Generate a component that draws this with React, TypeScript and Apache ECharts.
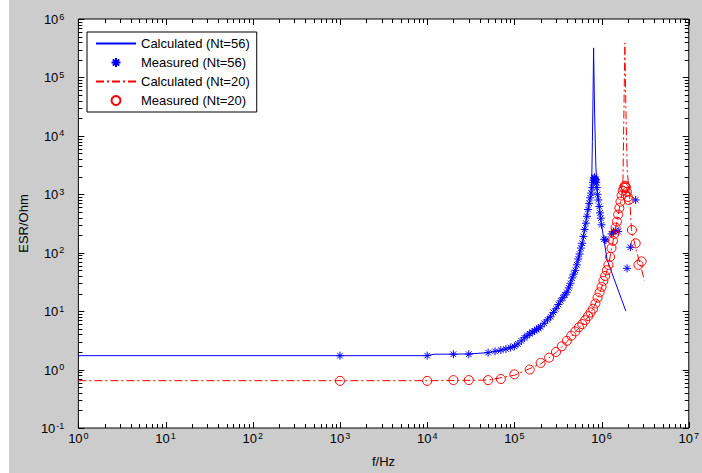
import React, { useEffect, useRef } from "react";
import * as echarts from "echarts";

// ---- data ----
const calc56F = [1, 1e3, 1e4, 1.2e4, 3e4, 5e4, 7e4, 1e5, 1.5e5, 2e5, 3e5, 4e5, 5e5, 6e5, 7e5, 7.5e5, 7.7e5, 7.85e5, 8.0e5, 8.1e5, 8.3e5, 8.6e5, 9e5, 9.8e5, 1.16e6, 1.9e6];
const calc56V = [1.73, 1.73, 1.73, 1.83, 1.85, 1.95, 2.15, 2.5, 4.0, 5.4, 11, 21, 50, 145, 550, 950, 1500, 8000, 6e4, 3.2e5, 3e4, 3000, 1000, 360, 75, 10];

const meas56F = [1e3, 1e4, 2e4, 3e4, 5e4, 6e4, 7e4, 8e4, 9e4, 1e5, 1.1e5, 1.2e5, 1.3e5, 1.4e5, 1.5e5, 1.6e5, 1.7e5, 1.8e5, 1.9e5, 2e5, 2.2e5, 2.4e5, 2.6e5, 2.8e5, 3e5, 3.2e5, 3.4e5, 3.6e5, 3.8e5, 4e5, 4.2e5, 4.4e5, 4.6e5, 4.8e5, 5e5, 5.2e5, 5.4e5, 5.6e5, 5.8e5, 6e5, 6.2e5, 6.4e5, 6.6e5, 6.8e5, 7e5, 7.2e5, 7.4e5, 7.6e5, 7.8e5, 8e5, 8.1e5, 8.2e5, 8.3e5, 8.4e5, 8.5e5, 8.6e5, 8.7e5, 8.8e5, 9e5, 9.2e5, 9.4e5, 9.6e5, 9.8e5, 1e6, 1.07e6, 1.12e6, 1.3e6, 1.37e6, 1.45e6, 1.55e6, 1.96e6, 2.14e6, 2.46e6];
const meas56V = [1.73, 1.73, 1.83, 1.83, 1.95, 2.05, 2.15, 2.25, 2.38, 2.5, 2.75, 3.1, 3.5, 3.8, 4.1, 4.4, 4.6, 4.9, 5.1, 5.4, 6.2, 7.1, 8.0, 9.5, 11, 13, 15, 17, 19, 21, 25, 30, 37, 43, 50, 62, 78, 95, 120, 145, 190, 250, 320, 420, 550, 700, 870, 1050, 1300, 1600, 1750, 1900, 1950, 1850, 1700, 1800, 1600, 1300, 1000, 800, 620, 480, 390, 300, 170, 165, 210, 230, 240, 230, 54, 124, 800];

const calc20F = [1, 1e3, 1e4, 5e4, 1e5, 2e5, 3e5, 4e5, 5e5, 6e5, 7e5, 8e5, 9e5, 1e6, 1.1e6, 1.2e6, 1.3e6, 1.4e6, 1.5e6, 1.6e6, 1.7e6, 1.76e6, 1.8e6, 1.85e6, 1.9e6, 1.97e6, 2.1e6, 2.2e6, 2.5e6, 2.85e6, 3.1e6];
const calc20V = [0.645, 0.645, 0.645, 0.66, 0.8, 1.25, 1.95, 3.0, 4.4, 5.9, 8.0, 11, 16, 25, 39, 60, 115, 205, 340, 570, 950, 1800, 2e4, 3.9e5, 3e4, 2500, 900, 250, 110, 55, 33];

const meas20F = [1e3, 1e4, 2e4, 3e4, 5e4, 7e4, 1e5, 1.5e5, 2e5, 2.5e5, 3e5, 3.5e5, 4e5, 4.5e5, 5e5, 5.5e5, 6e5, 6.5e5, 7e5, 7.5e5, 8e5, 8.5e5, 9e5, 9.5e5, 1e6, 1.05e6, 1.1e6, 1.15e6, 1.2e6, 1.25e6, 1.3e6, 1.35e6, 1.4e6, 1.45e6, 1.5e6, 1.55e6, 1.6e6, 1.65e6, 1.7e6, 1.75e6, 1.8e6, 1.85e6, 1.88e6, 1.9e6, 1.95e6, 2e6, 2.05e6, 2.23e6, 2.46e6, 2.65e6, 2.88e6];
const meas20V = [0.64, 0.64, 0.66, 0.66, 0.66, 0.69, 0.83, 1.0, 1.3, 1.6, 2.0, 2.5, 3.1, 3.8, 4.5, 5.3, 6.0, 7.0, 8.2, 9.5, 11, 13.5, 17, 21, 26, 33, 40, 50, 62, 85, 120, 160, 210, 270, 340, 450, 580, 750, 950, 1150, 1300, 1400, 1350, 1300, 1100, 900, 800, 245, 145, 62, 71];

const seriesNames = ["Calculated (Nt=56)", "Measured (Nt=56)", "Calculated (Nt=20)", "Measured (Nt=20)"];

// tick decades
const xDecades = [1, 10, 100, 1e3, 1e4, 1e5, 1e6, 1e7];
const yDecades = [0.1, 1, 10, 100, 1e3, 1e4, 1e5, 1e6];
const minorSteps = [2, 3, 4, 5, 6, 7, 8, 9];

const FONT = "'Liberation Sans', Arial, Helvetica, sans-serif";
const BLUE = "#0000ff";
const RED = "#ff0000";
const STAR = "path://M5,0L5,10M0,5L10,5M1.5,1.5L8.5,8.5M1.5,8.5L8.5,1.5";

const zip = (a: number[], b: number[]) => a.map((v, i) => [v, b[i]]);

function tickData(decades: number[]) {
  const out: number[][] = [];
  decades.forEach((d, i) => {
    out.push([d, 1]);
    if (i < decades.length - 1) minorSteps.forEach((m) => out.push([d * m, 0]));
  });
  return out;
}

const rich = {
  b: { fontSize: 13, fontFamily: FONT, color: "#000", lineHeight: 14, padding: [6, 0, 0, 0], verticalAlign: "bottom" },
  s: { fontSize: 9, fontFamily: FONT, color: "#000", lineHeight: 10, verticalAlign: "top", padding: [0, 0, 0, 1] },
};
const fmt = (v: number) => `{b|10}{s|${Math.round(Math.log10(v))}}`;

export default function App() {
  const ref = useRef<HTMLDivElement>(null);
  useEffect(() => {
    if (!ref.current) return;
    const chart = echarts.init(ref.current, undefined, { renderer: "svg" });
    const px = (v: number) => Math.round(v) + 0.5;
    const option: any = {
      animation: false,
      backgroundColor: "#cccccc",
      grid: { left: 63, right: 11, top: 19, bottom: 45, show: true, backgroundColor: "#ffffff", borderColor: "#000", borderWidth: 1 },
      legend: {
        data: [
          { name: seriesNames[0], itemStyle: { opacity: 0 } },
          { name: seriesNames[1] },
          { name: seriesNames[2], itemStyle: { opacity: 0 } },
          { name: seriesNames[3] },
        ],
        orient: "vertical",
        left: 78,
        top: 32,
        backgroundColor: "#ffffff",
        borderColor: "#000",
        borderWidth: 1,
        borderRadius: 0,
        padding: [4, 7, 4, 8],
        itemGap: 4,
        itemWidth: 40,
        itemHeight: 9,
        selectedMode: false,
        textStyle: { fontSize: 13, fontFamily: FONT, color: "#000", lineHeight: 15 },
      },
      xAxis: {
        type: "log",
        logBase: 10,
        min: 1,
        max: 1e7,
        splitNumber: 7,
        splitLine: { show: false },
        axisLine: { show: false },
        axisTick: { show: false },
        axisLabel: { formatter: fmt, rich, margin: 3 },
        name: "f/Hz",
        nameLocation: "middle",
        nameGap: 27,
        nameTextStyle: { fontSize: 13, fontFamily: FONT, color: "#000" },
      },
      yAxis: {
        type: "log",
        logBase: 10,
        min: 0.1,
        max: 1e6,
        splitNumber: 7,
        splitLine: { show: false },
        axisLine: { show: false },
        axisTick: { show: false },
        axisLabel: { formatter: fmt, rich, margin: 14 },
        name: "ESR/Ohm",
        nameLocation: "middle",
        nameGap: 37,
        nameTextStyle: { fontSize: 13, fontFamily: FONT, color: "#000" },
      },
      series: [
        {
          name: seriesNames[0],
          type: "line",
          data: zip(calc56F, calc56V),
          symbol: "none",
          lineStyle: { color: BLUE, width: 1 },
          itemStyle: { color: BLUE },
          z: 2,
        },
        {
          name: seriesNames[1],
          type: "scatter",
          data: zip(meas56F, meas56V),
          symbol: STAR,
          symbolSize: 8,
          itemStyle: { color: "rgba(0,0,0,0)", borderColor: BLUE, borderWidth: 1, opacity: 1 },
          z: 3,
        },
        {
          name: seriesNames[2],
          type: "line",
          data: zip(calc20F, calc20V),
          symbol: "none",
          lineStyle: { color: RED, width: 1, type: [8, 3, 2, 3] },
          itemStyle: { color: RED },
          z: 4,
        },
        {
          name: seriesNames[3],
          type: "scatter",
          data: zip(meas20F, meas20V),
          symbol: "circle",
          symbolSize: 9,
          itemStyle: { color: "rgba(0,0,0,0)", borderColor: RED, borderWidth: 1, opacity: 1 },
          z: 5,
        },
        {
          type: "custom",
          silent: true,
          clip: false,
          z: 10,
          encode: { x: 0 },
          data: tickData(xDecades).map((d) => [d[0], 1, d[1]]),
          renderItem: (params: any, api: any) => {
            const v = api.value(0);
            const major = api.value(2);
            const b = api.coord([v, 0.1]);
            const t = api.coord([v, 1e6]);
            const len = major ? 6 : 4;
            const x = px(b[0]);
            const st = { stroke: "#000", lineWidth: 1 };
            return {
              type: "group",
              children: [
                { type: "line", shape: { x1: x, y1: b[1], x2: x, y2: b[1] - len }, style: st },
                { type: "line", shape: { x1: x, y1: t[1], x2: x, y2: t[1] + len }, style: st },
              ],
            };
          },
        },
        {
          type: "custom",
          silent: true,
          clip: false,
          z: 10,
          encode: { x: 0, y: 1 },
          data: tickData(yDecades).map((d) => [1, d[0], d[1]]),
          renderItem: (params: any, api: any) => {
            const v = api.value(1);
            const major = api.value(2);
            const l = api.coord([1, v]);
            const r = api.coord([1e7, v]);
            const len = major ? 6 : 4;
            const y = px(l[1]);
            const st = { stroke: "#000", lineWidth: 1 };
            return {
              type: "group",
              children: [
                { type: "line", shape: { x1: l[0], y1: y, x2: l[0] + len, y2: y }, style: st },
                { type: "line", shape: { x1: r[0], y1: y, x2: r[0] - len, y2: y }, style: st },
              ],
            };
          },
        },
      ],
    };
    chart.setOption(option);
    return () => chart.dispose();
  }, []);
  return (
    <div style={{ position: "fixed", left: 0, top: 0, width: 702, height: 473, background: "#fff" }}>
      <div ref={ref} style={{ position: "absolute", left: 9, top: 0, width: 693, height: 473 }} />
    </div>
  );
}
